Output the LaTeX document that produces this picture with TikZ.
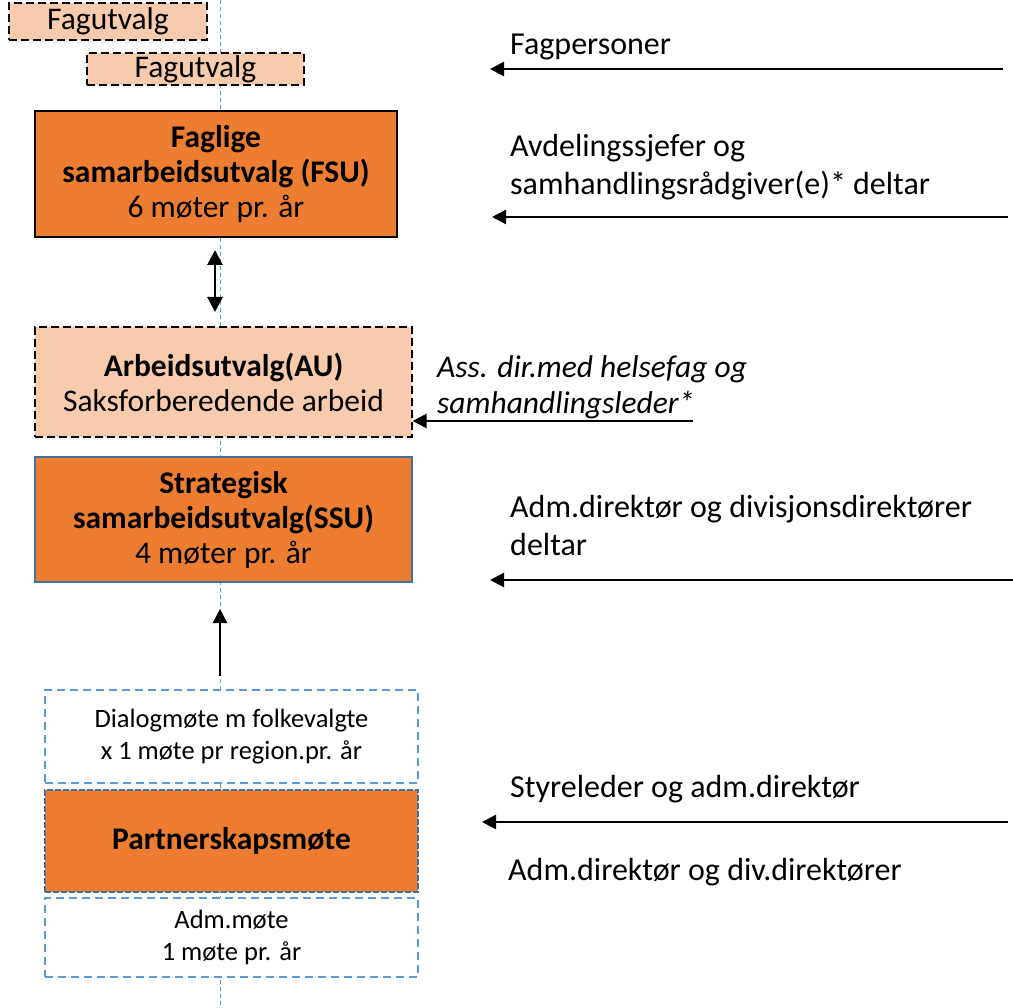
\documentclass[tikz,border=0pt]{standalone}
\usepackage{fontspec}
\setmainfont{Carlito}
\usetikzlibrary{arrows.meta}
\definecolor{org}{HTML}{ED7D31}
\definecolor{peach}{HTML}{F8CBAD}
\definecolor{lblue}{HTML}{5B9BD5}
\definecolor{dblue}{HTML}{41719C}
\begin{document}
\begin{tikzpicture}[x=1pt,y=-1pt,
  bfont/.style={font=\fontsize{31.5}{35}\selectfont},
  sfont/.style={font=\fontsize{26.5}{32}\selectfont},
  rfont/.style={font=\fontsize{32}{38}\selectfont},
  fagbox/.style={draw=black, dash pattern=on 8pt off 4pt, fill=peach, line width=1.3pt, inner sep=0pt},
  orgbox/.style={draw=black, fill=org, line width=1.2pt, inner sep=0pt, align=center},
  bluedash/.style={draw=lblue, dash pattern=on 8pt off 5pt, line width=1.8pt, fill=white, inner sep=0pt, align=center},
  arr/.style={line width=2.5pt, -{Triangle[length=14pt,width=14pt]}},
  dbl/.style={line width=2.8pt, {Triangle[length=15pt,width=15pt]}-{Triangle[length=15pt,width=15pt]}},
  rtext/.style={rfont, anchor=base west, inner sep=0pt},
  centerline/.style={draw=lblue, line width=1pt, dash pattern=on 4pt off 3pt}
]
\useasboundingbox (0,0) rectangle (1013,1008);
\coordinate (ctop) at (220,0);
\coordinate (cbot) at (220,1008);
\draw[centerline] (ctop) -- (cbot);

% left column boxes
\node[fagbox, bfont, minimum width=198pt, minimum height=37pt] (fag1) at (108,21.5) {Fagutvalg};
\node[fagbox, bfont, minimum width=217pt, minimum height=32pt] (fag2) at (195.5,69) {Fagutvalg};
\node[orgbox, bfont, minimum width=362pt, minimum height=126pt] (fsu) at (216,174)
  {\textbf{Faglige}\\ \textbf{samarbeidsutvalg (FSU)}\\ 6 møter pr. år};
\node[fagbox, bfont, align=center, minimum width=377pt, minimum height=110pt] (au) at (223.5,382)
  {\textbf{Arbeidsutvalg(AU)}\\ Saksforberedende arbeid};
\node[orgbox, bfont, draw=dblue, line width=2pt, minimum width=377pt, minimum height=125pt] (ssu) at (223.5,519.5)
  {\textbf{Strategisk}\\ \textbf{samarbeidsutvalg(SSU)}\\ 4 møter pr. år};
\node[bluedash, sfont, minimum width=373pt, minimum height=93pt] (dlg) at (231.5,736.5)
  {Dialogmøte m folkevalgte\\ x 1 møte pr region.pr. år};
\node[orgbox, bfont, draw=dblue, dash pattern=on 6pt off 2pt, line width=1.6pt, minimum width=373pt, minimum height=102pt] (part) at (231.5,841)
  {\textbf{Partnerskapsmøte}};
\node[bluedash, sfont, minimum width=373pt, minimum height=79pt] (adm) at (231.5,937.5)
  {Adm.møte\\ 1 møte pr. år};

% vertical arrows
\coordinate (d1) at (215,250);
\coordinate (d2) at (215,312);
\draw[dbl] (d1) -- (d2);
\draw[arr, shorten <=13pt, shorten >=26pt] (dlg.north -| ctop) -- (ssu.south -| ctop);

% right texts
\node[rtext] (t1) at (510,55) {Fagpersoner};
\node[rtext] (t2a) at (510,157) {Avdelingssjefer og};
\node[rtext] (t2b) at (510,195) {samhandlingsrådgiver(e)* deltar};
\node[rtext, font=\fontsize{31.5}{38}\selectfont\itshape] (t3a) at (437,378) {Ass. dir.med helsefag og};
\node[rtext, font=\fontsize{31.5}{38}\selectfont\itshape] (t3b) at (437,414) {samhandlingsleder*};
\node[rtext] (t4a) at (510,517) {Adm.direktør og divisjonsdirektører};
\node[rtext] (t4b) at (510,555) {deltar};
\node[rtext] (t5) at (510,797) {Styreleder og adm.direktør};
\node[rtext] (t6) at (508,880) {Adm.direktør og div.direktører};

% horizontal arrows
\coordinate (a1s) at (1003,69);  \coordinate (a1e) at (490,69);
\coordinate (a2s) at (1008,217); \coordinate (a2e) at (492,217);
\coordinate (a3s) at (693,421);
\coordinate (a4s) at (1013,580); \coordinate (a4e) at (490,580);
\coordinate (a5s) at (1008,822); \coordinate (a5e) at (482,822);
\draw[arr] (a1s) -- (a1e);
\draw[arr] (a2s) -- (a2e);
\draw[arr] (a3s) -- (a3s -| au.east);
\draw[arr] (a4s) -- (a4e);
\draw[arr] (a5s) -- (a5e);
\end{tikzpicture}
\end{document}
